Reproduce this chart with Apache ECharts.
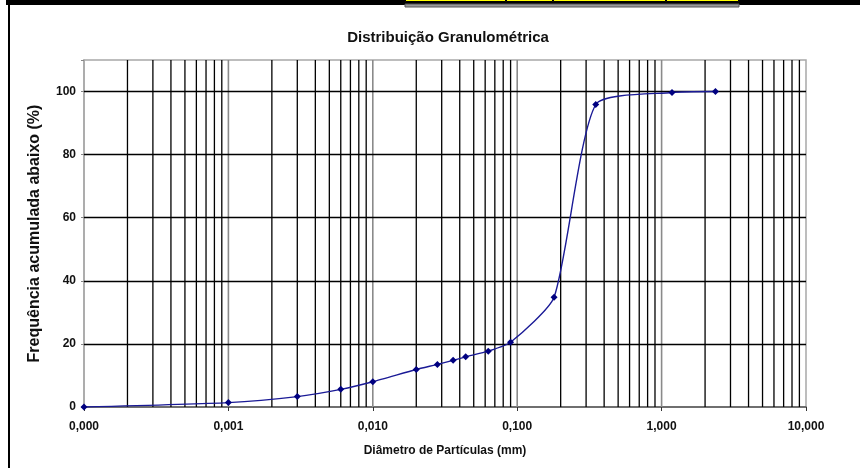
<!DOCTYPE html>
<html>
<head>
<meta charset="utf-8">
<script src="https://cdn.jsdelivr.net/npm/echarts@6/dist/echarts.min.js"></script>
<style>
html,body{margin:0;padding:0;background:#fff;}
#chart{width:860px;height:468px;}
</style>
</head>
<body>
<div id="chart"></div>
<script>
// ---- data ----
var diameters = [0.0001, 0.001, 0.003, 0.006, 0.01, 0.02, 0.028, 0.036, 0.044, 0.063, 0.09, 0.18, 0.35, 1.18, 2.36];
var percents  = [0, 1.4, 3.3, 5.6, 8.0, 11.9, 13.5, 14.8, 15.9, 17.7, 20.5, 34.8, 95.9, 99.7, 100];
var yTicks = [20, 40, 60, 80, 100];
var decadeLines = [0.001, 0.01, 0.1, 1];
var decadeStarts = [0.0001, 0.001, 0.01, 0.1, 1];
var minorMultipliers = [2, 3, 4, 5, 6, 7, 8, 9];
var titleText = 'Distribuição Granulométrica';
var xName = 'Diâmetro de Partículas (mm)';
var yName = 'Frequência acumulada abaixo (%)';

var FONT = '"Liberation Sans", Arial, sans-serif';
var Y_MIN = 0, Y_MAX = 110;
var pts = diameters.map(function (d, i) { return [d, percents[i]]; });

// vertical grid lines: [value, isDecade]
var vLines = [];
decadeStarts.forEach(function (d) {
  minorMultipliers.forEach(function (m) { vLines.push([+(d * m).toPrecision(3), 0]); });
});
decadeLines.forEach(function (d) { vLines.push([d, 1]); });

var hMarks = yTicks.map(function (v) {
  return { yAxis: v, lineStyle: { color: '#000', width: 1.3, type: 'solid' } };
});

var chart = echarts.init(document.getElementById('chart'), null, { renderer: 'canvas' });
chart.setOption({
  animation: false,
  backgroundColor: '#fff',
  title: {
    text: titleText, left: 443, top: 25, textAlign: 'center',
    textStyle: { fontFamily: FONT, fontSize: 15, fontWeight: 'bold', color: '#111' }
  },
  grid: { left: 84, right: 54, top: 60, bottom: 61, show: true, borderColor: '#a8a8a8', borderWidth: 1.5, backgroundColor: 'transparent' },
  xAxis: {
    type: 'log', logBase: 10, min: 0.0001, max: 10,
    name: xName, nameLocation: 'middle', nameGap: 38,
    nameTextStyle: { fontFamily: FONT, fontSize: 12, fontWeight: 'bold', color: '#111' },
    axisLine: { show: true, onZero: false, lineStyle: { color: '#555', width: 1.5 } },
    axisTick: { show: true, length: 4, inside: false, lineStyle: { color: '#333' } },
    splitLine: { show: false },
    axisLabel: {
      fontFamily: FONT, fontSize: 12, fontWeight: 'bold', color: '#111', margin: 14,
      formatter: function (v) { return v.toFixed(3).replace('.', ','); }
    }
  },
  yAxis: {
    type: 'value', min: Y_MIN, max: Y_MAX, interval: 20,
    name: yName, nameLocation: 'middle', nameGap: 41, nameRotate: 90,
    nameTextStyle: { fontFamily: FONT, fontSize: 16, fontWeight: 'bold', color: '#111' },
    axisLine: { show: true, lineStyle: { color: '#a8a8a8', width: 1.5 } },
    axisTick: { show: true, length: 3, lineStyle: { color: '#888' } },
    splitLine: { show: false },
    axisLabel: {
      fontFamily: FONT, fontSize: 12, fontWeight: 'bold', color: '#111', margin: 8,
      formatter: function (v) { return v > 100 ? '' : String(v); }
    }
  },
  series: [
    {
      type: 'custom', data: vLines, z: 1, silent: true,
      encode: { x: 0 },
      renderItem: function (params, api) {
        var v = api.value(0);
        var dec = api.value(1) === 1;
        var p0 = api.coord([v, Y_MIN]);
        var p1 = api.coord([v, Y_MAX]);
        return {
          type: 'line',
          shape: { x1: p0[0], y1: p0[1], x2: p1[0], y2: p1[1] },
          style: { stroke: dec ? '#8a8a8a' : '#000', lineWidth: dec ? 1.6 : 1.3 }
        };
      }
    },
    {
      type: 'line', data: [], z: 1, silent: true,
      markLine: { silent: true, symbol: 'none', label: { show: false }, animation: false, data: hMarks }
    },
    {
      type: 'line', data: pts, z: 5,
      smooth: 0.2,
      symbol: 'diamond', symbolSize: 7, showAllSymbol: true,
      itemStyle: { color: '#000080' },
      lineStyle: { color: '#1a1a96', width: 1.4 }
    }
  ],
  graphic: [
    { type: 'rect', shape: { x: 6, y: 0, width: 854, height: 5 }, style: { fill: '#000' }, z: 100 },
    { type: 'rect', shape: { x: 8, y: 4, width: 2, height: 464 }, style: { fill: '#000' }, z: 100 },
    { type: 'rect', shape: { x: 405, y: 4, width: 334, height: 3 }, style: { fill: '#999', stroke: '#555', lineWidth: 1 }, z: 101 },
    { type: 'rect', shape: { x: 405.5, y: -1, width: 100, height: 2.5 }, style: { fill: '#ffff00', stroke: '#000', lineWidth: 1 }, z: 102 },
    { type: 'rect', shape: { x: 506.5, y: -1, width: 46, height: 2.5 }, style: { fill: '#ffff00', stroke: '#000', lineWidth: 1 }, z: 102 },
    { type: 'rect', shape: { x: 553.5, y: -1, width: 112, height: 2.5 }, style: { fill: '#ffff00', stroke: '#000', lineWidth: 1 }, z: 102 },
    { type: 'rect', shape: { x: 666.5, y: -1, width: 72, height: 2.5 }, style: { fill: '#ffff00', stroke: '#000', lineWidth: 1 }, z: 102 }
  ]
});
</script>
</body>
</html>
